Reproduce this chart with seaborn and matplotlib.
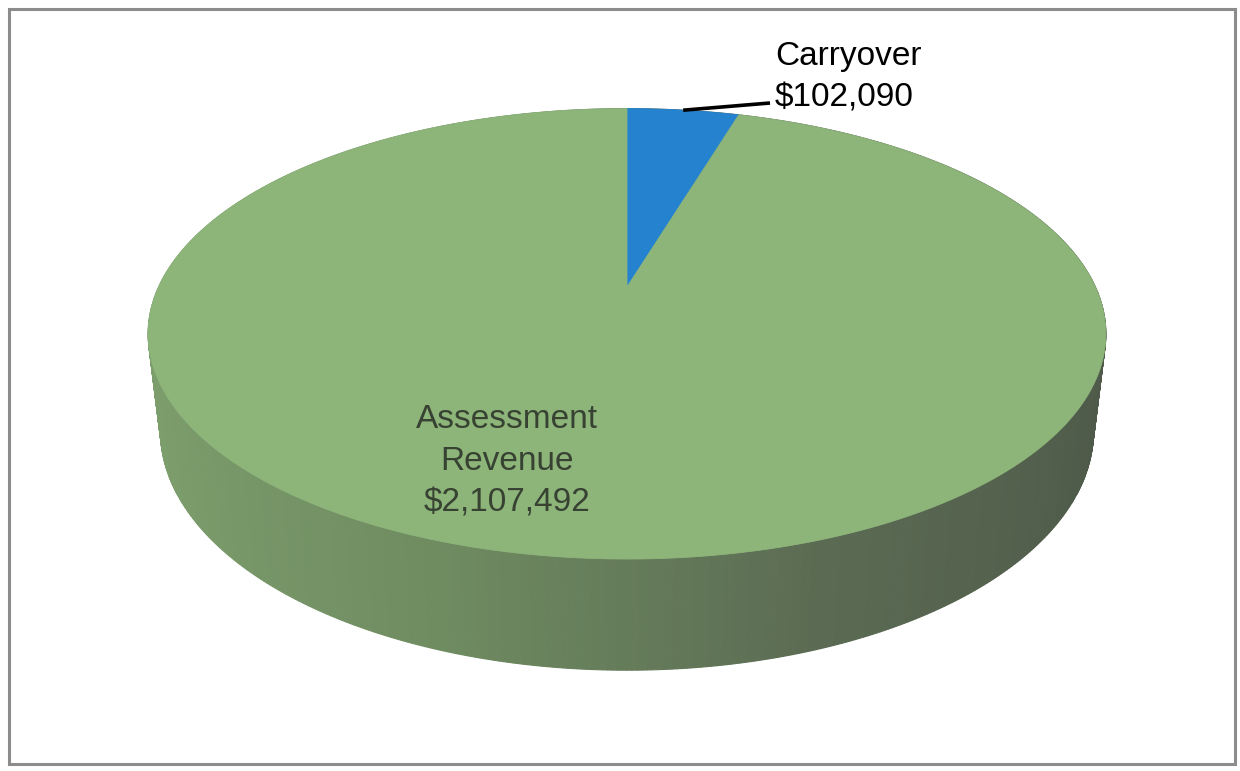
import numpy as np
import matplotlib
matplotlib.use("Agg")
import matplotlib.pyplot as plt
from matplotlib.patches import Polygon, Rectangle
from matplotlib.colors import LinearSegmentedColormap
import seaborn as sns

# Revenue sources
categories = ["Assessment Revenue", "Carryover"]
amounts = [2107492, 102090]
label_text = ["Assessment\nRevenue\n$2,107,492", "Carryover\n$102,090"]
top_colors = ["#8db57a", "#2582cf"]

sns.set_theme(style="white")
plt.rcParams["font.family"] = ["Liberation Sans", "DejaVu Sans"]

W, H = 1240, 771
fig = plt.figure(figsize=(W / 100, H / 100), dpi=100)
ax = fig.add_axes([0, 0, 1, 1])
ax.set_xlim(0, W)
ax.set_ylim(H, 0)
ax.axis("off")

# Perspective camera for the 3-D pie disc
sin_e, cos_e = 0.46, 0.888
dist = 4.27
thick = 0.235
cx, cy, scale = 627, 287, 2000


def project(X, Y, Z):
    depth = Y * cos_e - Z * sin_e + dist
    sx = X / depth
    sy = (Y * sin_e + Z * cos_e) / depth
    return cx + scale * sx, cy - scale * sy


# Side wall, shaded from light (left) to dark (right)
side_cmap = LinearSegmentedColormap.from_list(
    "side", ["#7e9f6d", "#6f8c61", "#5b6b53", "#4e5949"])
n = 720
theta = np.linspace(0, 2 * np.pi, n + 1)
order = np.argsort(np.sin((theta[:-1] + theta[1:]) / 2))[::-1]
for i in order:
    t0, t1 = theta[i], theta[i + 1]
    xs = [np.cos(t0), np.cos(t1)]
    ys = [np.sin(t0), np.sin(t1)]
    pts = [project(xs[0], ys[0], 0), project(xs[1], ys[1], 0),
           project(xs[1], ys[1], -thick), project(xs[0], ys[0], -thick)]
    frac = (np.cos((t0 + t1) / 2) + 1) / 2
    col = side_cmap(frac)
    ax.add_patch(Polygon(pts, closed=True, facecolor=col, edgecolor=col,
                         lw=0.8, zorder=1))

# Top face wedges, starting at 12 o'clock and running clockwise
total = sum(amounts)
fractions = [a / total for a in amounts]
start = 90.0
spans = {}
# Carryover first (clockwise from the top), then assessment revenue
for idx in [1, 0]:
    sweep = 360.0 * fractions[idx]
    angs = np.radians(np.linspace(start, start - sweep, 400))
    rim = [project(np.cos(a), np.sin(a), 0) for a in angs]
    pts = [project(0, 0, 0)] + rim
    ax.add_patch(Polygon(pts, closed=True, facecolor=top_colors[idx],
                         edgecolor=top_colors[idx], lw=0.6, zorder=2))
    spans[idx] = (start, start - sweep)
    start -= sweep

# Carryover label with leader line
mid = np.radians(sum(spans[1]) / 2)
lx, ly = project(np.cos(mid), np.sin(mid), 0)
ax.plot([lx, 770], [ly, 103], color="black", lw=2.6, zorder=3,
        solid_capstyle="butt")
ax.text(775, 77, label_text[1], ha="left", va="center", fontsize=24,
        color="black", linespacing=1.45, zorder=4)

# Assessment revenue label on the face
ax.text(507, 461, label_text[0], ha="center", va="center", fontsize=24,
        color="#374232", linespacing=1.45, zorder=4)

# Outer frame
ax.add_patch(Rectangle((9, 9), 1226, 755, fill=False, edgecolor="#8c8c8c",
                       lw=2.2, zorder=5))

fig.savefig("out.png", dpi=100, facecolor="white")
